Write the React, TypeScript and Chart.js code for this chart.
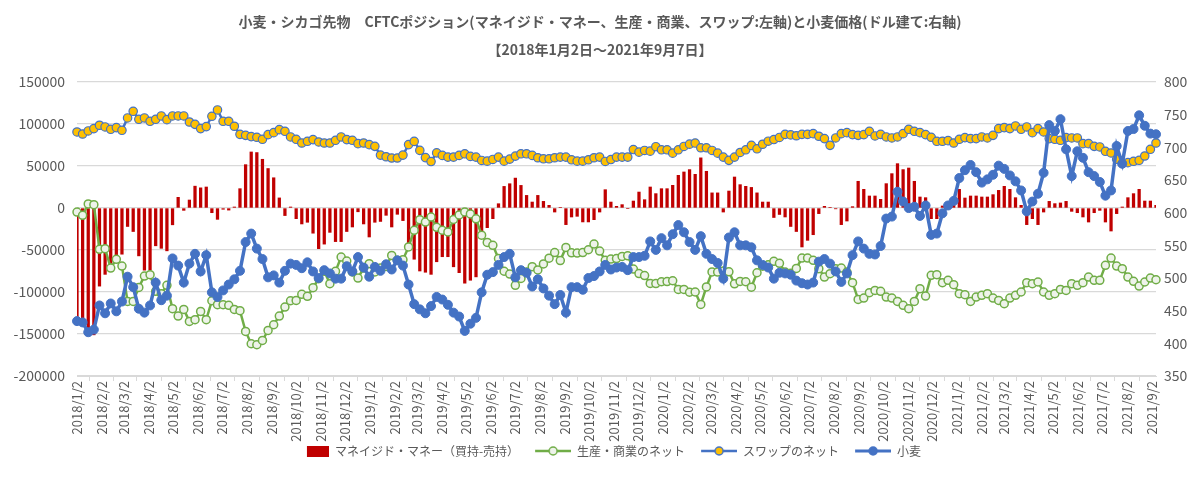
import React, { useEffect, useRef } from "react";
import { Chart, registerables } from "chart.js";

Chart.register(...registerables);

const FONT = '"Noto Sans CJK JP", "Noto Sans", sans-serif';
const TEXT = "#595959";

const titleLines = [
  "小麦・シカゴ先物　CFTCポジション(マネイジド・マネー、生産・商業、スワップ:左軸)と小麦価格(ドル建て:右軸)",
  "【2018年1月2日～2021年9月7日】",
];

const seriesNames = [
  "マネイジド・マネー（買持-売持）",
  "生産・商業のネット",
  "スワップのネット",
  "小麦",
];

// weekly report dates start here, one value per week
const firstDate = "2018/1/2";
const weekCount = 193;

const tickLabels = [
  "2018/1/2", "2018/2/2", "2018/3/2", "2018/4/2", "2018/5/2", "2018/6/2", "2018/7/2", "2018/8/2", "2018/9/2", "2018/10/2", "2018/11/2", "2018/12/2",
  "2019/1/2", "2019/2/2", "2019/3/2", "2019/4/2", "2019/5/2", "2019/6/2", "2019/7/2", "2019/8/2", "2019/9/2", "2019/10/2", "2019/11/2", "2019/12/2",
  "2020/1/2", "2020/2/2", "2020/3/2", "2020/4/2", "2020/5/2", "2020/6/2", "2020/7/2", "2020/8/2", "2020/9/2", "2020/10/2", "2020/11/2", "2020/12/2",
  "2021/1/2", "2021/2/2", "2021/3/2", "2021/4/2", "2021/5/2", "2021/6/2", "2021/7/2", "2021/8/2", "2021/9/2",
];
const lastDate = "2021/9/7";

const leftTicks = { min: -200000, max: 150000, step: 50000 };
const rightTicks = { min: 350, max: 800, step: 50 };

const managedMoney = [
  -135000, -134000, -146000, -151000, -93000, -79000, -66000, -56000, -55000, -22000,
  -28000, -57000, -74000, -74000, -45000, -48000, -51000, -20000, 12700, -2800,
  9500, 26000, 24000, 25000, -5600, -13500, -1500, -2500, 1200, 23000,
  51600, 66700, 66000, 58000, 47000, 36000, 12000, -9000, 1200, -12700,
  -19000, -17000, -30000, -48400, -43000, -29000, -40000, -40000, -28000, -22600,
  -4500, -19000, -34500, -17000, -16000, -8700, -22600, -7500, -15000, -45000,
  -61000, -75000, -76500, -79000, -64000, -58000, -58000, -70000, -77000, -89500,
  -86000, -82000, -36400, -23400, -12700, 5100, 25700, 28900, 35600, 26900,
  15000, 7100, 15000, 7900, 3200, -4800, 800, -19800, -10700, -9900,
  -16600, -16600, -13900, -4800, 21800, 7100, 2000, 4000, -800, 8300,
  19000, 9900, 25000, 17100, 23000, 23000, 27000, 38900, 42900, 45700,
  40100, 59700, 43700, 18000, 18000, -4800, 20200, 36900, 27800, 25800,
  24500, 18000, 7100, 7100, -11300, -7700, -10700, -22000, -28000, -46400,
  -38500, -31800, -6700, 2000, 800, -1000, -19800, -15500, 1600, 31800,
  22200, 14300, 14300, 10300, 29000, 40900, 52800, 45700, 47600, 31800,
  13100, 12300, -12700, -12700, 2400, 3200, 9100, 22200, 11900, 14300,
  14300, 13100, 13100, 15900, 21000, 25800, 22200, 12300, 3200, -19800,
  -12700, -19800, -4800, 7900, 5200, 6000, 7900, -4000, -5600, -10700,
  -16700, -5600, -2800, -16700, -27400, -6700, 1200, 12300, 17100, 22200,
  8300, 8300, 3200,
];

const producerNet = [
  -4800, -8700, 4800, 4000, -49200, -48400, -71500, -61100, -69100, -111200,
  -111200, -94500, -81000, -79400, -99200, -102000, -92100, -119900, -128600, -120700,
  -135000, -133000, -123100, -133000, -110400, -115100, -115100, -115900, -120700, -122300,
  -146900, -161600, -162800, -157600, -145700, -139000, -128600, -117900, -110400, -110000,
  -102800, -105200, -94900, -84200, -75400, -90100, -75400, -58400, -63100, -76200,
  -83400, -71500, -66300, -76200, -71500, -69500, -56400, -62300, -61500, -46400,
  -26600, -13900, -16700, -10700, -23000, -26500, -28500, -13700, -8300, -4700,
  -7100, -12900, -32300, -41000, -44400, -60200, -75300, -78700, -92000, -83900,
  -76100, -69800, -73700, -66600, -59700, -53000, -62600, -47000, -53300, -53700,
  -53000, -49700, -43000, -51300, -62200, -60800, -60200, -57700, -56900, -72700,
  -78100, -80500, -89800, -90000, -87800, -87600, -86600, -97000, -97000, -100300,
  -100000, -114800, -94000, -76100, -76300, -75000, -76000, -90200, -87400, -87800,
  -94300, -77100, -69200, -67600, -63500, -65800, -76200, -77800, -71900, -59600,
  -59600, -62300, -72300, -82200, -78200, -72300, -71500, -76200, -88900, -108800,
  -107200, -100800, -98100, -99200, -106000, -107200, -111200, -115900, -119900, -111200,
  -96100, -104800, -80200, -79400, -88900, -86100, -91300, -102000, -103200, -111200,
  -106000, -104000, -102000, -107200, -110000, -113900, -107200, -104000, -100000, -88900,
  -90100, -88100, -100000, -104000, -102000, -96900, -98100, -90100, -92100, -88900,
  -82200, -86100, -86100, -68300, -59600, -69100, -72300, -82200, -87300, -92900,
  -88100, -83400, -85400,
];

const swapNet = [
  90500, 88100, 91700, 94500, 98500, 96500, 93700, 95700, 92500, 107200,
  115100, 105600, 107200, 103200, 105600, 109600, 105200, 109600, 109600, 109600,
  102400, 99600, 94500, 96900, 109200, 116700, 103200, 103200, 97300, 87700,
  86500, 85000, 84200, 81800, 87300, 89700, 93300, 91300, 84600, 81800,
  77400, 79400, 81400, 78600, 77400, 77400, 80600, 84600, 81400, 80600,
  76600, 77400, 75400, 73400, 63000, 61000, 59500, 59500, 63000, 75500,
  79300, 68600, 60000, 55300, 65600, 62600, 60600, 60600, 62600, 64500,
  61400, 60600, 56600, 55800, 57800, 60600, 55800, 58200, 61800, 64500,
  64500, 62600, 59800, 58600, 58600, 59800, 60600, 60600, 57400, 55800,
  55800, 57400, 59800, 60600, 55400, 57700, 60600, 60600, 60600, 69600,
  66500, 68500, 67700, 73000, 69300, 69300, 65300, 69300, 73300, 76000,
  77300, 71700, 71700, 68500, 65300, 60600, 56700, 60600, 66100, 69300,
  74500, 70500, 75900, 79500, 81500, 84000, 87700, 87000, 86000, 87700,
  87700, 88500, 85400, 82600, 74600, 83400, 88500, 89700, 87300, 86500,
  87300, 91300, 85800, 87700, 84600, 83400, 84600, 88500, 93700, 91300,
  89700, 87300, 84200, 79400, 79400, 80200, 77400, 81800, 83800, 82600,
  82600, 84600, 83400, 86500, 94500, 95700, 94500, 97700, 93700, 96500,
  89700, 94500, 90500, 82600, 81800, 80600, 83800, 83400, 83400, 76600,
  76600, 73400, 72700, 67500, 65500, 58000, 52800, 54000, 55600, 56800,
  61900, 69900, 77400,
];

const wheatPrice = [
  434, 432, 417, 421, 458, 446, 461, 449, 464, 502,
  486, 453, 447, 458, 493, 466, 473, 530, 519, 493,
  522, 537, 510, 535, 478, 471, 481, 490, 498, 511,
  555, 568, 545, 529, 501, 504, 493, 511, 522, 520,
  515, 524, 510, 500, 512, 507, 499, 499, 518, 510,
  532, 516, 502, 517, 511, 521, 513, 527, 519, 490,
  460, 452, 446, 457, 471, 467, 459, 447, 441, 419,
  430, 439, 478, 505, 509, 520, 532, 537, 501, 512,
  508, 487, 498, 484, 473, 460, 474, 447, 486, 486,
  482, 500, 503, 510, 520, 513, 516, 517, 512, 532,
  532, 534, 556, 543, 561, 550, 567, 581, 570, 555,
  543, 564, 537, 529, 523, 499, 562, 570, 550, 550,
  547, 527, 520, 516, 499, 508, 507, 505, 496, 492,
  490, 493, 525, 529, 522, 510, 494, 507, 535, 556,
  545, 537, 536, 549, 591, 594, 632, 617, 607, 609,
  595, 611, 566, 568, 599, 611, 618, 653, 665, 673,
  662, 646, 651, 658, 672, 667, 657, 648, 634, 602,
  617, 629, 661, 734, 725, 743, 697, 656, 694, 684,
  662, 656, 647, 626, 634, 702, 675, 725, 728, 749,
  733, 721, 720,
];

function dayOffset(label: string): number {
  const [y, m, d] = label.split("/").map(Number);
  const [y0, m0, d0] = firstDate.split("/").map(Number);
  return Math.round((Date.UTC(y, m - 1, d) - Date.UTC(y0, m0 - 1, d0)) / 86400000);
}

const LEG_W = 50; // legend symbol box: transparent gap + 36px symbol
const SYM_W = 36;

function lineMarker(line: string, lw: number, fill: string, stroke: string): HTMLCanvasElement {
  const c = document.createElement("canvas");
  c.width = LEG_W;
  c.height = 12;
  const g = c.getContext("2d")!;
  const x0 = LEG_W - SYM_W;
  g.strokeStyle = line;
  g.lineWidth = lw;
  g.beginPath();
  g.moveTo(x0, 6);
  g.lineTo(LEG_W, 6);
  g.stroke();
  g.beginPath();
  g.arc(x0 + SYM_W / 2, 6, 4, 0, Math.PI * 2);
  g.fillStyle = fill;
  g.fill();
  g.strokeStyle = stroke;
  g.lineWidth = 1.5;
  g.stroke();
  return c;
}

function barMarker(color: string): HTMLCanvasElement {
  const c = document.createElement("canvas");
  c.width = LEG_W;
  c.height = 12;
  const g = c.getContext("2d")!;
  g.fillStyle = color;
  g.fillRect(LEG_W - 22, 1, 22, 11);
  return c;
}

export default function App() {
  const ref = useRef<HTMLCanvasElement>(null);

  useEffect(() => {
    const canvas = ref.current;
    if (!canvas) return;
    Chart.defaults.font.family = FONT;
    const tickDays = tickLabels.map(dayOffset);
    const xs = Array.from({ length: weekCount }, (_, i) => i * 7);
    const pts = (vals: number[]) => vals.map((v, i) => ({ x: xs[i], y: v }));
    const imgs = [
      barMarker("#C00000"),
      lineMarker("#70AD47", 2.5, "#EEF3EA", "#70AD47"),
      lineMarker("#4472C4", 2.5, "#FFC000", "#4472C4"),
      lineMarker("#4472C4", 3, "#4472C4", "#4472C4"),
    ];

    const chart = new Chart(canvas, {
      type: "bar",
      data: {
        datasets: [
          {
            type: "bar",
            label: seriesNames[0],
            data: pts(managedMoney),
            yAxisID: "y",
            backgroundColor: "#C00000",
            barThickness: 2.6,
            order: 4,
          } as any,
          {
            type: "line",
            label: seriesNames[1],
            data: pts(producerNet),
            yAxisID: "y",
            borderColor: "#70AD47",
            borderWidth: 2.5,
            pointRadius: 4,
            pointBackgroundColor: "#EEF3EA",
            pointBorderColor: "#70AD47",
            pointBorderWidth: 1.5,
            order: 3,
            clip: 10,
          },
          {
            type: "line",
            label: seriesNames[2],
            data: pts(swapNet),
            yAxisID: "y",
            borderColor: "#4472C4",
            borderWidth: 2.5,
            pointRadius: 4.2,
            pointBackgroundColor: "#FFC000",
            pointBorderColor: "#4472C4",
            pointBorderWidth: 1.2,
            order: 2,
            clip: 10,
          },
          {
            type: "line",
            label: seriesNames[3],
            data: pts(wheatPrice),
            yAxisID: "y1",
            borderColor: "#4472C4",
            borderWidth: 3.5,
            pointRadius: 4.5,
            pointBackgroundColor: "#4472C4",
            pointBorderColor: "#4472C4",
            pointBorderWidth: 1,
            order: 1,
            clip: 10,
          },
        ],
      },
      options: {
        responsive: false,
        animation: false,
        devicePixelRatio: 1,
        layout: { padding: { left: 0, right: 0, top: 0, bottom: 30 } },
        plugins: {
          tooltip: { enabled: false },
          title: {
            display: true,
            text: titleLines,
            color: TEXT,
            font: { family: FONT, size: 14, weight: "bold", lineHeight: 2 },
            padding: { top: 8, bottom: 18 },
          },
          legend: {
            display: true,
            position: "bottom",
            labels: {
              usePointStyle: true,
              pointStyleWidth: LEG_W,
              boxHeight: 12,
              padding: 2,
              color: TEXT,
              font: { family: FONT, size: 12 },
              generateLabels: (ch: any) =>
                ch.data.datasets.map((ds: any, i: number) => ({
                  text: ds.label,
                  fillStyle: "rgba(0,0,0,0)",
                  strokeStyle: "rgba(0,0,0,0)",
                  lineWidth: 0,
                  pointStyle: imgs[i],
                  hidden: false,
                  datasetIndex: i,
                  fontColor: TEXT,
                })),
            },
          },
        },
        scales: {
          x: {
            type: "linear",
            min: 0,
            max: dayOffset(lastDate),
            offset: false,
            afterBuildTicks: (scale: any) => {
              scale.ticks = tickDays.map((v) => ({ value: v }));
            },
            afterFit: (scale: any) => {
              scale.height = 67;
            },
            ticks: {
              autoSkip: false,
              minRotation: 90,
              maxRotation: 90,
              padding: 0,
              color: TEXT,
              font: { family: FONT, size: 13 },
              callback: (_v: any, i: number) => tickLabels[i],
            },
            grid: {
              drawOnChartArea: false,
              drawTicks: true,
              tickLength: 5,
              color: "#D9D9D9",
            },
            border: { display: true, color: "#D9D9D9" },
          },
          y: {
            type: "linear",
            position: "left",
            min: leftTicks.min,
            max: leftTicks.max,
            afterFit: (scale: any) => {
              scale.width = 77;
            },
            ticks: {
              stepSize: leftTicks.step,
              padding: 12,
              color: TEXT,
              font: { family: FONT, size: 14 },
              callback: (v: any) => String(v),
            },
            grid: { color: "#D9D9D9", lineWidth: 1.3, drawTicks: false },
            border: { display: false },
          },
          y1: {
            type: "linear",
            position: "right",
            min: rightTicks.min,
            max: rightTicks.max,
            afterFit: (scale: any) => {
              scale.width = 44;
            },
            ticks: {
              stepSize: rightTicks.step,
              padding: 8,
              color: TEXT,
              font: { family: FONT, size: 14 },
              callback: (v: any) => String(v),
            },
            grid: { drawOnChartArea: false, drawTicks: false },
            border: { display: false },
          },
        },
      } as any,
    });
    return () => chart.destroy();
  }, []);

  return (
    <div style={{ position: "fixed", left: 0, top: 0, width: 1200, height: 497, background: "#fff" }}>
      <canvas ref={ref} width={1200} height={497} style={{ display: "block" }} />
    </div>
  );
}
